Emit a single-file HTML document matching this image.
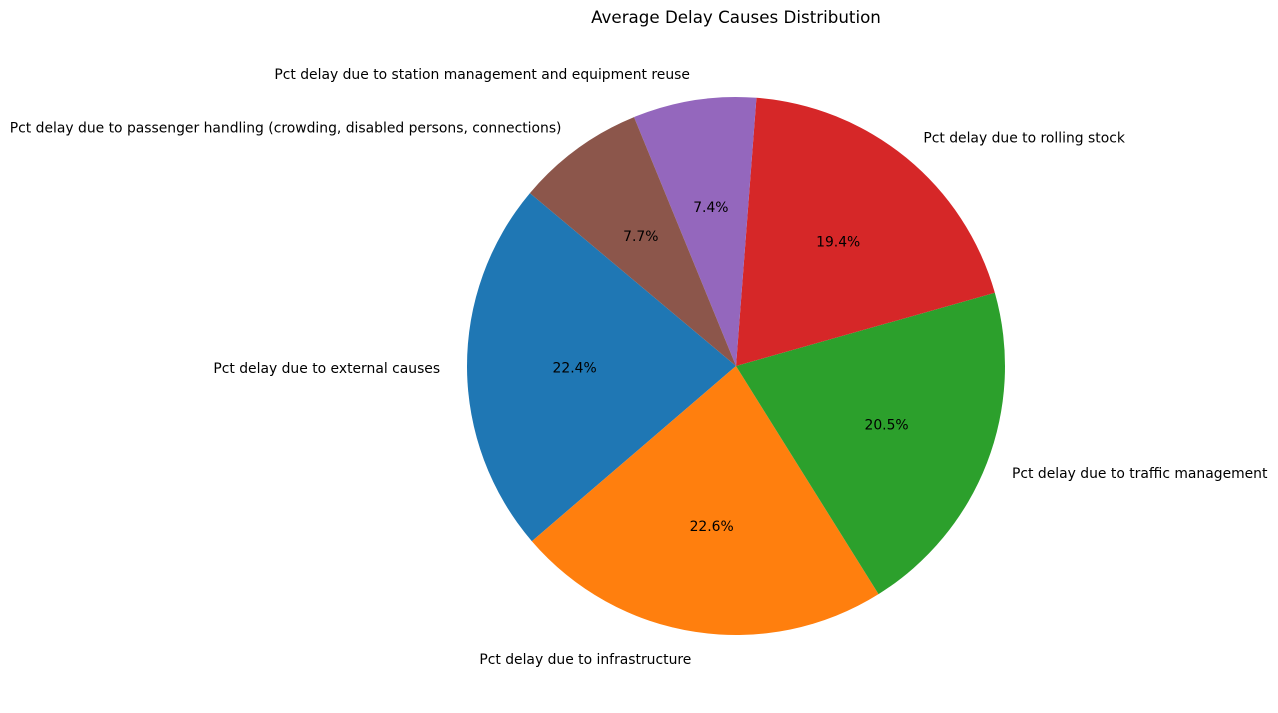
<!DOCTYPE html>
<html><head><meta charset="utf-8"><style>
body{margin:0;background:#fff}
svg{display:block;font-family:"DejaVu Sans","Liberation Sans",sans-serif}
</style></head><body>
<svg id="chart" width="1278" height="713" viewBox="0 0 1278 713">
<text x="736" y="23" text-anchor="middle" font-size="16.7">Average Delay Causes Distribution</text>
</svg>
<script>
const categories = ["Pct delay due to external causes","Pct delay due to infrastructure","Pct delay due to traffic management","Pct delay due to rolling stock","Pct delay due to station management and equipment reuse","Pct delay due to passenger handling (crowding, disabled persons, connections)"];
const values = [22.4, 22.6, 20.5, 19.4, 7.4, 7.7];
const colors = ["#1f77b4","#ff7f0e","#2ca02c","#d62728","#9467bd","#8c564b"];
const cx = 736, cy = 366, r = 269, startAngle = 140;
const svg = document.getElementById('chart');
const NS = "http://www.w3.org/2000/svg";
const total = values.reduce((a,b)=>a+b,0);
function pt(deg, rad){const a=deg*Math.PI/180;return [cx+rad*Math.cos(a), cy-rad*Math.sin(a)];}
let ang = startAngle;
values.forEach((v,i)=>{
  const sweep = v/total*360;
  const a0 = ang, a1 = ang+sweep;
  const p0 = pt(a0,r), p1 = pt(a1,r);
  const path = document.createElementNS(NS,'path');
  path.setAttribute('d',`M${cx},${cy} L${p0[0]},${p0[1]} A${r},${r} 0 ${sweep>180?1:0} 0 ${p1[0]},${p1[1]} Z`);
  path.setAttribute('fill',colors[i]);
  
  
  svg.appendChild(path);
  const mid = (a0+a1)/2;
  const lp = pt(mid, r*1.1);
  const lt = document.createElementNS(NS,'text');
  lt.setAttribute('x',lp[0]); lt.setAttribute('y',lp[1]+1.5);
  lt.setAttribute('font-size','13.9');
  lt.setAttribute('dominant-baseline','central');
  lt.setAttribute('text-anchor', Math.cos(mid*Math.PI/180)<0 ? 'end':'start');
  lt.textContent = categories[i];
  
  
  svg.appendChild(lt);
  const pp = pt(mid, r*0.6);
  const pct = document.createElementNS(NS,'text');
  pct.setAttribute('x',pp[0]); pct.setAttribute('y',pp[1]+1.5);
  pct.setAttribute('font-size','13.9');
  pct.setAttribute('dominant-baseline','central');
  pct.setAttribute('text-anchor','middle');
  pct.textContent = (v/total*100).toFixed(1)+'%';
  
  
  svg.appendChild(pct);
  ang = a1;
});
</script>
</body></html>
